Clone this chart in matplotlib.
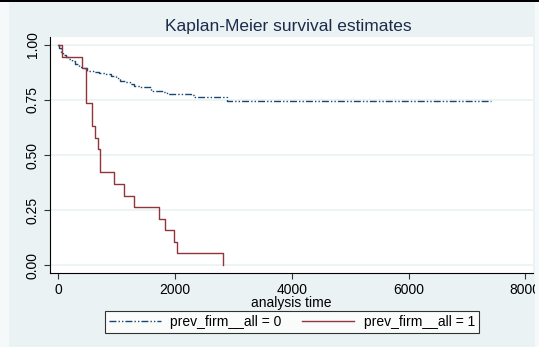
"""Kaplan-Meier survival estimates, redrawn with matplotlib."""

import matplotlib
matplotlib.use("Agg")
import matplotlib.pyplot as plt
from matplotlib.patches import Rectangle

# group prev_firm__all = 0
time_0 = [0, 20, 40, 80, 130, 180, 230, 290, 350, 420, 490, 610, 700,
          810, 900, 980, 1064, 1150, 1230, 1293, 1400, 1522, 1580, 1800,
          1866, 2266, 2318, 2781, 2896, 7416]
surv_0 = [1.0, 0.985, 0.97, 0.955, 0.945, 0.935, 0.925, 0.912, 0.902,
          0.893, 0.883, 0.876, 0.872, 0.867, 0.858, 0.848, 0.838, 0.830,
          0.822, 0.814, 0.811, 0.808, 0.791, 0.785, 0.776, 0.773, 0.765,
          0.762, 0.747, 0.745]

# group prev_firm__all = 1
time_1 = [0, 60, 407, 480, 578, 624, 681, 716, 950, 1133, 1293, 1717,
          1831, 1980, 2037, 2827]
surv_1 = [1.0, 0.947, 0.895, 0.737, 0.632, 0.579, 0.526, 0.421, 0.368,
          0.316, 0.263, 0.211, 0.158, 0.105, 0.053, 0.0]

x_ticks = [0, 2000, 4000, 6000, 8000]
y_ticks = [0.0, 0.25, 0.5, 0.75, 1.0]
y_labels = ["0.00", "0.25", "0.50", "0.75", "1.00"]

bg_color = "#EAF2F3"
navy = "#1a476f"
maroon = "#90353b"

plt.rcParams["font.family"] = ["Liberation Sans", "DejaVu Sans"]

fig = plt.figure(figsize=(5.39, 3.47), dpi=100, facecolor=bg_color)

# screenshot edges: light strips at the sides and a black line on top
fig.patches.append(Rectangle((0, 0), 9 / 539, 1, transform=fig.transFigure,
                             facecolor="#f6f9fa", edgecolor="none"))
fig.patches.append(Rectangle((535 / 539, 0), 4 / 539, 1,
                             transform=fig.transFigure,
                             facecolor="#f6f9fa", edgecolor="none"))
fig.patches.append(Rectangle((0, 1 - 1.5 / 347), 1, 1.5 / 347,
                             transform=fig.transFigure,
                             facecolor="black", edgecolor="none"))

ax = fig.add_axes([50 / 539, 1 - 273 / 347, 483 / 539, 236 / 347])
ax.set_facecolor("white")

# step curves
ax.step(time_0, surv_0, where="post", color=navy, linewidth=1.0,
        dashes=(5, 1.5, 1, 1.5, 1, 1.5), label="prev_firm__all = 0")
ax.step(time_1, surv_1, where="post", color=maroon, linewidth=1.0,
        label="prev_firm__all = 1")

ax.set_xlim(-142, 8131)
ax.set_ylim(-0.036, 1.036)

ax.set_xticks(x_ticks)
ax.set_yticks(y_ticks)
ax.set_yticklabels(y_labels, rotation=90, va="center")
ax.tick_params(axis="both", labelsize=10, length=4, width=0.8,
               direction="out", color="#333333")

ax.grid(axis="y", color=bg_color, linewidth=1.2)
ax.set_axisbelow(True)

for side in ["top", "right"]:
    ax.spines[side].set_visible(False)
ax.spines["left"].set_color("black")
ax.spines["bottom"].set_color("black")

ax.set_xlabel("analysis time", fontsize=10, labelpad=-1)
fig.text(0.535, 1 - 27 / 347, "Kaplan-Meier survival estimates",
         ha="center", va="center", fontsize=12.5, color="#1c2b4a")

leg = fig.legend(loc="center", bbox_to_anchor=(292 / 539, 1 - 322 / 347),
                 ncol=2, fontsize=10, frameon=True, fancybox=False,
                 handlelength=3.7, columnspacing=1.5, borderpad=0.3,
                 handletextpad=0.7, borderaxespad=0)
leg.get_frame().set_edgecolor("black")
leg.get_frame().set_linewidth(0.8)

fig.savefig("out.png", dpi=100, facecolor=fig.get_facecolor())
